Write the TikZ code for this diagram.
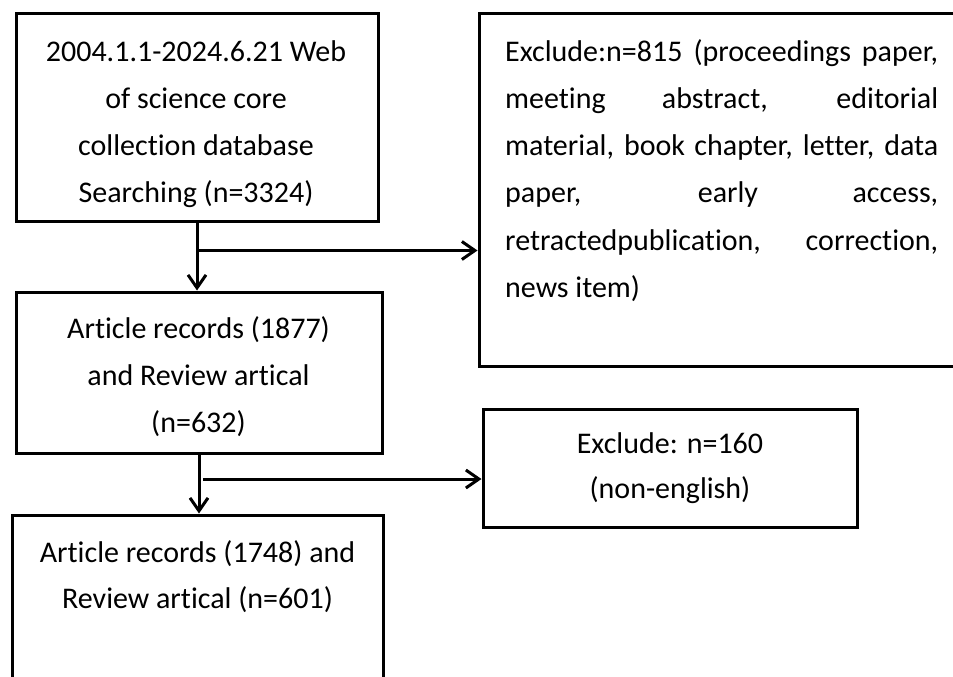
\documentclass[tikz,border=0pt]{standalone}
\usepackage{fontspec}
\setmainfont{Carlito}[Ligatures=NoCommon]
\usetikzlibrary{arrows.meta,calc}
\begin{document}
\begin{tikzpicture}[x=1pt,y=-1pt,
  box/.style={draw=black,line width=3pt,inner sep=0pt},
  txt/.style={anchor=base,inner sep=0pt,font=\fontsize{30}{36}\selectfont},
  ltxt/.style={anchor=base west,inner sep=0pt,font=\fontsize{30}{36}\selectfont},
  arr/.style={line width=3pt,-{Straight Barb[length=13pt,width=18pt,line width=3pt]}}]
\path[use as bounding box,fill=white] (0,0) rectangle (953,677);
\clip (0,0) rectangle (953,677);
% boxes
\node[box,minimum width=362pt,minimum height=207pt] (b1) at (197,117.5) {};
\node[box,minimum width=496pt,minimum height=352pt] (b2) at (727,190) {};
\node[box,minimum width=366pt,minimum height=161pt] (b3) at (199,372.5) {};
\node[box,minimum width=374pt,minimum height=118pt] (b4) at (670,468) {};
\node[box,minimum width=371pt,minimum height=185pt] (b5) at (197.5,607.5) {};
% texts box 1
\node[txt] (t1a) at (196,62) {2004.1.1-2024.6.21 Web};
\node[txt] (t1b) at (196,108) {of science core};
\node[txt] (t1c) at (196,155) {collection database};
\node[txt] (t1d) at (196,202) {Searching (n=3324)};
% texts box 2
\node[ltxt] (t2a) at (505,62) {\makebox[433pt][s]{Exclude:n=815 (proceedings paper,}};
\node[ltxt] (t2b) at (505,108) {\makebox[433pt][s]{meeting abstract, editorial}};
\node[ltxt] (t2c) at (505,155) {\makebox[433pt][s]{material, book chapter, letter, data}};
\node[ltxt] (t2d) at (505,202) {\makebox[433pt][s]{paper, early access,}};
\node[ltxt] (t2e) at (505,250) {\makebox[433pt][s]{retractedpublication, correction,}};
\node[ltxt] (t2f) at (505,297) {news item)};
% texts box 3
\node[txt] (t3a) at (198.5,338) {Article records (1877)};
\node[txt] (t3b) at (198.5,385) {and Review artical};
\node[txt] (t3c) at (198.5,432) {(n=632)};
% texts box 4
\node[txt] (t4a) at (670,453) {Exclude: n=160};
\node[txt] (t4b) at (670,498) {(non-english)};
% texts box 5
\node[txt] (t5a) at (197.5,562) {Article records (1748) and};
\node[txt] (t5b) at (197.5,608) {Review artical (n=601)};
% connectors
\coordinate (j1) at ($(b1.south)+(0,28)$);
\draw[arr] (b1.south) -- (b1.south |- b3.north);
\draw[arr] (j1) -- (j1 -| b2.west);
\coordinate (j2) at ($(b3.south)+(4,24.5)$);
\draw[arr] (b3.south) -- (b3.south |- b5.north);
\draw[arr] (j2) -- (j2 -| b4.west);
\end{tikzpicture}
\end{document}
